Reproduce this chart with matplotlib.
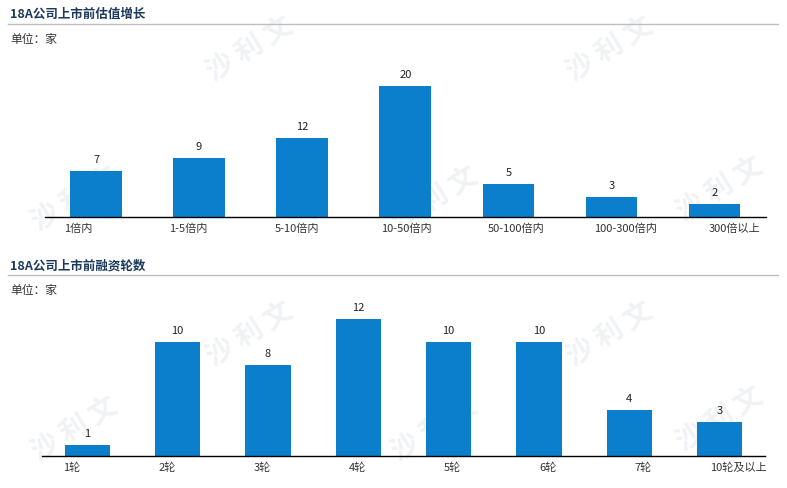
import matplotlib.pyplot as plt

plt.rcParams['font.family'] = ['Noto Sans CJK SC', 'DejaVu Sans']

# data
val_cats = ["1倍内", "1-5倍内", "5-10倍内", "10-50倍内", "50-100倍内", "100-300倍内", "300倍以上"]
val_counts = [7, 9, 12, 20, 5, 3, 2]

round_cats = ["1轮", "2轮", "3轮", "4轮", "5轮", "6轮", "7轮", "10轮及以上"]
round_counts = [1, 10, 8, 12, 10, 10, 4, 3]

titles = ["18A公司上市前估值增长", "18A公司上市前融资轮数"]
unit_text = "单位：家"

bar_color = "#0b7fcb"
title_color = "#1b3a5c"

W, H = 787, 489
fig = plt.figure(figsize=(W / 100, H / 100), dpi=100)


def fx(px):
    return px / W


def fy(py):
    return 1 - py / H


# faint watermark, kept behind the axes
for (cx, cy) in [(250, 50), (610, 50), (75, 200), (435, 200), (720, 190),
                 (250, 335), (610, 335), (75, 430), (435, 430), (720, 420)]:
    fig.text(fx(cx), fy(cy), "沙 利 文", fontsize=20, fontweight="bold",
             color="#f0f2f5", rotation=32, ha="center", va="center", zorder=-5)


def header(title, y_title, y_line, y_unit):
    fig.text(fx(10), fy(y_title), title, fontsize=9, fontweight="bold",
             color=title_color, va="center")
    fig.add_artist(plt.Line2D([fx(8), fx(778)], [fy(y_line), fy(y_line)],
                              color="#bfbfbf", linewidth=1))
    fig.text(fx(10), fy(y_unit), unit_text, fontsize=8.5, color="#333333", va="center")


def bars(ax, cats, counts, ymax, label_shift):
    x = list(range(len(cats)))
    rects = ax.bar(x, counts, width=0.5, color=bar_color, zorder=2)
    for r, v in zip(rects, counts):
        ax.annotate(str(v), (r.get_x() + r.get_width() / 2, v), xytext=(0, 5),
                    textcoords="offset points", ha="center", va="bottom",
                    fontsize=8, color="#222222")
    ax.set_xlim(-0.5, len(cats) - 0.5)
    ax.set_ylim(0, ymax)
    # labels drift slightly right across the axis, as in the source
    ax.set_xticks([i + label_shift[0] + label_shift[1] * i for i in x])
    ax.set_xticklabels(cats, fontsize=8, color="#333333")
    ax.tick_params(axis="x", length=0, pad=4)
    ax.set_yticks([])
    for s in ["top", "right", "left"]:
        ax.spines[s].set_visible(False)
    ax.spines["bottom"].set_color("black")
    ax.spines["bottom"].set_linewidth(1)
    ax.patch.set_alpha(0)


header(titles[0], 14, 25, 39)
ax1 = fig.add_axes([fx(44.5), fy(218), fx(721.5), 158 / H])
bars(ax1, val_cats, val_counts, 158 / 6.55, (-0.17, 0.061))

header(titles[1], 266, 276, 290)
ax2 = fig.add_axes([fx(42), fy(457), fx(723), 157 / H])
bars(ax2, round_cats, round_counts, 157 / 11.4, (-0.17, 0.053))

fig.savefig("out.png", dpi=100)
